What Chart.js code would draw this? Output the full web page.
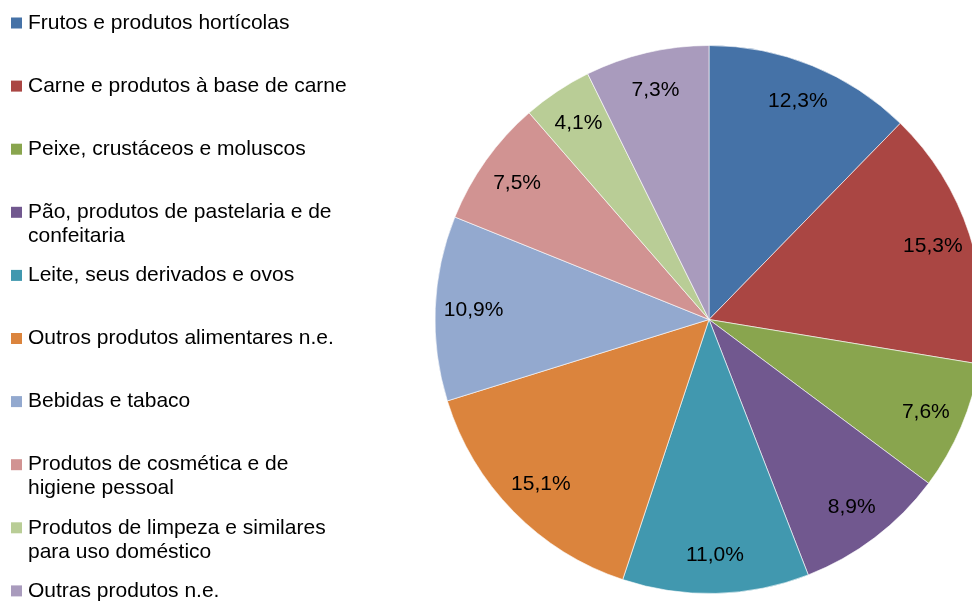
<!DOCTYPE html>
<html>
<head>
<meta charset="utf-8">
<script src="https://cdn.jsdelivr.net/npm/chart.js@4"></script>
<style>
  html, body { margin: 0; padding: 0; background: #fff; overflow: hidden; }
  #wrap { position: relative; width: 1000px; height: 601px; }
</style>
</head>
<body>
<div id="wrap"><canvas id="pie"></canvas></div>
<script>
const categories = [
  ['Frutos e produtos hortícolas'],
  ['Carne e produtos à base de carne'],
  ['Peixe, crustáceos e moluscos'],
  ['Pão, produtos de pastelaria e de', 'confeitaria'],
  ['Leite, seus derivados e ovos'],
  ['Outros produtos alimentares n.e.'],
  ['Bebidas e tabaco'],
  ['Produtos de cosmética e de', 'higiene pessoal'],
  ['Produtos de limpeza e similares', 'para uso doméstico'],
  ['Outras produtos n.e.']
];
const shares = [12.3, 15.3, 7.6, 8.9, 11.0, 15.1, 10.9, 7.5, 4.1, 7.3];
const colors = [
  '#4572A7', '#AA4643', '#89A54E', '#71588F', '#4198AF',
  '#DB843D', '#93A9CF', '#D19392', '#B9CD96', '#A99BBD'
];

const FONT = '21px "Liberation Sans", Arial, sans-serif';

// percentagens dentro das fatias
const sliceLabels = {
  id: 'sliceLabels',
  afterDatasetsDraw(chart) {
    const ctx = chart.ctx;
    const meta = chart.getDatasetMeta(0);
    ctx.save();
    ctx.font = FONT;
    ctx.fillStyle = '#000';
    ctx.textAlign = 'center';
    ctx.textBaseline = 'middle';
    meta.data.forEach((arc, i) => {
      const mid = (arc.startAngle + arc.endAngle) / 2;
      const r = arc.outerRadius * 0.86;
      const x = arc.x + Math.cos(mid) * r;
      const y = arc.y + Math.sin(mid) * r;
      ctx.fillText(shares[i].toFixed(1).replace('.', ',') + '%', x, y);
    });
    ctx.restore();
  }
};

// legenda à esquerda, com linhas partidas
const sideLegend = {
  id: 'sideLegend',
  afterDraw(chart) {
    const ctx = chart.ctx;
    ctx.save();
    ctx.font = FONT;
    ctx.fillStyle = '#000';
    ctx.textBaseline = 'middle';
    ctx.textAlign = 'left';
    chart.data.labels.forEach((lines, i) => {
      const y = 23 + i * 63.1;
      ctx.fillStyle = colors[i];
      ctx.fillRect(11, y - 5.5, 11, 11);
      ctx.fillStyle = '#000';
      lines.forEach((ln, j) => ctx.fillText(ln, 28, y + j * 24));
    });
    ctx.restore();
  }
};

new Chart(document.getElementById('pie'), {
  type: 'pie',
  data: {
    labels: categories,
    datasets: [{
      data: shares,
      backgroundColor: colors,
      borderColor: 'rgba(255,255,255,0.6)',
      borderWidth: 1
    }]
  },
  options: {
    responsive: true,
    maintainAspectRatio: false,
    animation: false,
    layout: { padding: { left: 434, right: 16, top: 45, bottom: 7 } },
    plugins: {
      legend: { display: false },
      tooltip: { enabled: false }
    }
  },
  plugins: [sliceLabels, sideLegend]
});
</script>
</body>
</html>
